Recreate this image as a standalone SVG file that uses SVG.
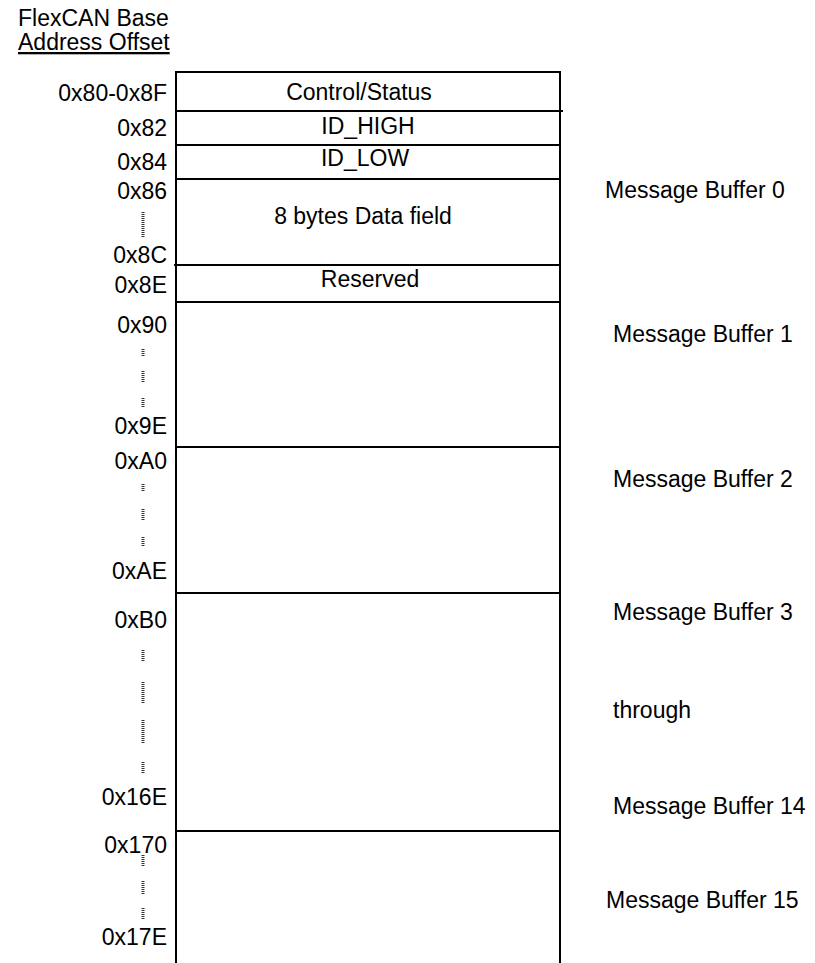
<svg xmlns="http://www.w3.org/2000/svg" width="815" height="963" viewBox="0 0 815 963">
<style>
text{font-family:"Liberation Sans",Arial,sans-serif;font-size:23px;fill:#000}
.r{text-anchor:end}
.c{text-anchor:middle}
.ln{stroke:#000;stroke-width:2;fill:none}
.dot{stroke:#333;stroke-width:3;stroke-dasharray:1 1}
</style>
<rect width="815" height="963" fill="#fff"/>
<g id="title">
<text x="18" y="26">FlexCAN Base</text>
<text x="18" y="50" text-decoration="underline">Address Offset</text>
</g>
<g id="frame">
<path class="ln" d="M176,963 V72 H560 V963"/>
<line class="ln" x1="176" y1="111" x2="563" y2="111"/>
<line class="ln" x1="176" y1="145" x2="560" y2="145"/>
<line class="ln" x1="176" y1="179" x2="560" y2="179"/>
<line class="ln" x1="174" y1="265" x2="560" y2="265"/>
<line class="ln" x1="176" y1="302" x2="560" y2="302"/>
<line class="ln" x1="176" y1="447" x2="560" y2="447"/>
<line class="ln" x1="176" y1="593" x2="560" y2="593"/>
<line class="ln" x1="176" y1="831" x2="560" y2="831"/>
</g>
<g id="fields">
<text class="c" x="359" y="100">Control/Status</text>
<text class="c" x="368" y="134">ID_HIGH</text>
<text class="c" x="365" y="166">ID_LOW</text>
<text class="c" x="363" y="224">8 bytes Data field</text>
<text class="c" x="370" y="287">Reserved</text>
</g>
<g id="addresses">
<text class="r" x="167" y="101">0x80-0x8F</text>
<text class="r" x="167" y="136">0x82</text>
<text class="r" x="167" y="170">0x84</text>
<text class="r" x="167" y="199">0x86</text>
<text class="r" x="167" y="263">0x8C</text>
<text class="r" x="167" y="293">0x8E</text>
<text class="r" x="167" y="333">0x90</text>
<text class="r" x="167" y="434">0x9E</text>
<text class="r" x="167" y="469">0xA0</text>
<text class="r" x="167" y="579">0xAE</text>
<text class="r" x="167" y="628">0xB0</text>
<text class="r" x="167" y="805">0x16E</text>
<text class="r" x="167" y="853">0x170</text>
<text class="r" x="167" y="945">0x17E</text>
</g>
<g id="dots">
<line class="dot" x1="143" y1="212" x2="143" y2="237"/>
<line class="dot" x1="143" y1="349" x2="143" y2="356"/>
<line class="dot" x1="143" y1="371" x2="143" y2="383"/>
<line class="dot" x1="143" y1="398" x2="143" y2="407"/>
<line class="dot" x1="143" y1="484" x2="143" y2="492"/>
<line class="dot" x1="143" y1="509" x2="143" y2="521"/>
<line class="dot" x1="143" y1="537" x2="143" y2="546"/>
<line class="dot" x1="143" y1="650" x2="143" y2="661"/>
<line class="dot" x1="143" y1="682" x2="143" y2="703"/>
<line class="dot" x1="143" y1="720" x2="143" y2="743"/>
<line class="dot" x1="143" y1="762" x2="143" y2="773"/>
<line class="dot" x1="143" y1="855" x2="143" y2="867"/>
<line class="dot" x1="143" y1="881" x2="143" y2="894"/>
<line class="dot" x1="143" y1="908" x2="143" y2="920"/>
</g>
<g id="buffers">
<text x="605" y="198">Message Buffer 0</text>
<text x="613" y="342">Message Buffer 1</text>
<text x="613" y="487">Message Buffer 2</text>
<text x="613" y="620">Message Buffer 3</text>
<text x="613" y="718">through</text>
<text x="613" y="814">Message Buffer 14</text>
<text x="606" y="908">Message Buffer 15</text>
</g>
</svg>
